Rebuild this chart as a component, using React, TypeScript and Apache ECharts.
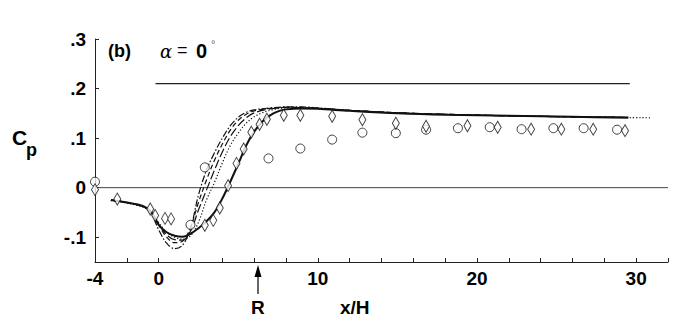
import React, { useEffect, useRef } from "react";
import * as echarts from "echarts";

const xTickLabels = [-4, 0, 10, 20, 30];
const yTickLabels = [-0.1, 0, 0.1, 0.2, 0.3];

const solidCurve = [[-3,-0.025],[-2,-0.03],[-1,-0.037],[-0.5,-0.048],[0,-0.075],[0.5,-0.09],[1,-0.097],[1.5,-0.099],[2,-0.093],[2.5,-0.082],[3,-0.068],[3.5,-0.05],[4,-0.022],[4.5,0.012],[5,0.048],[5.5,0.085],[6,0.113],[6.5,0.133],[7,0.146],[7.5,0.154],[8,0.158],[9,0.16],[10,0.159],[12,0.155],[15,0.15],[18,0.147],[22,0.145],[26,0.143],[29.5,0.141]];
const dottedCurve = [[-3,-0.026],[-2,-0.031],[-1,-0.039],[-0.5,-0.048],[0,-0.07],[0.5,-0.09],[1,-0.1],[1.5,-0.104],[2,-0.097],[2.5,-0.07],[3,-0.025],[3.5,0.01],[4,0.05],[4.5,0.085],[5,0.11],[5.5,0.13],[6,0.143],[6.5,0.151],[7,0.156],[8,0.161],[10,0.16],[12,0.156],[15,0.151],[18,0.148],[22,0.145],[26,0.143],[30.9,0.141]];
const dashedCurve = [[-3,-0.025],[-2,-0.03],[-1,-0.038],[-0.5,-0.048],[0,-0.075],[0.5,-0.1],[1,-0.111],[1.5,-0.108],[2,-0.08],[2.5,-0.03],[3,0.015],[3.5,0.055],[4,0.088],[4.5,0.116],[5,0.136],[5.5,0.148],[6,0.155],[7,0.16],[8,0.162],[10,0.16],[12,0.156],[15,0.151],[18,0.148],[22,0.145],[26,0.143],[29.5,0.142]];
const longDashCurve = [[-3,-0.025],[-2,-0.03],[-1,-0.038],[-0.5,-0.048],[0,-0.073],[0.5,-0.095],[1,-0.105],[1.5,-0.106],[2,-0.088],[2.5,-0.045],[3,-0.005],[3.5,0.035],[4,0.072],[4.5,0.103],[5,0.125],[5.5,0.141],[6,0.151],[7,0.159],[8,0.162],[10,0.16],[12,0.156],[15,0.151],[18,0.148],[22,0.145],[26,0.143],[29.5,0.142]];
const dashDotCurve = [[-3,-0.025],[-2,-0.03],[-1,-0.038],[-0.5,-0.05],[0,-0.085],[0.5,-0.112],[1,-0.123],[1.5,-0.116],[2,-0.082],[2.5,-0.015],[3,0.035],[3.5,0.07],[4,0.1],[4.5,0.125],[5,0.142],[5.5,0.152],[6,0.157],[7,0.161],[8,0.163],[9,0.163],[10,0.161],[12,0.156],[15,0.151],[18,0.148],[22,0.145],[26,0.143],[29.5,0.142]];

const circles = [[-4,0.012],[2.0,-0.075],[2.9,0.041],[6.9,0.059],[8.9,0.079],[10.9,0.097],[12.8,0.111],[14.9,0.11],[16.8,0.117],[18.8,0.12],[20.8,0.122],[22.8,0.118],[24.8,0.12],[26.7,0.12],[28.8,0.117]];
const diamonds = [[-4,-0.004],[-2.6,-0.023],[-0.53,-0.043],[-0.22,-0.056],[0.4,-0.062],[0.78,-0.063],[2.9,-0.076],[3.43,-0.066],[3.84,-0.041],[4.36,0.004],[4.89,0.049],[5.34,0.078],[5.82,0.112],[6.34,0.128],[6.8,0.138],[7.86,0.146],[8.9,0.146],[10.9,0.144],[12.8,0.137],[14.9,0.13],[16.8,0.124],[19.4,0.125],[21.3,0.122],[23.4,0.118],[25.3,0.118],[27.3,0.118],[29.3,0.115]];

const zeroLine = [[-4, 0], [32, 0]];
const freeStreamLine = [[-0.2, 0.21], [29.6, 0.21]];

const FONT = "'Liberation Sans', Arial, sans-serif";

export default function App() {
  const ref = useRef<HTMLDivElement>(null);
  useEffect(() => {
    if (!ref.current) return;
    const chart = echarts.init(ref.current, null, { renderer: "svg" });
    const lineSeries = (data: number[][], type: any, width: number, color = "#111") => ({
      type: "line",
      data,
      showSymbol: false,
      smooth: 0.35,
      lineStyle: { color, width, type },
      z: 2,
      silent: true,
    });
    const txt = (text: string, left: number, top: number, size: number, extra: any = {}) => ({
      type: "text",
      left,
      top,
      style: { text, fontSize: size, fontWeight: "bold", fontFamily: FONT, fill: "#000", ...extra },
    });
    chart.setOption({
      animation: false,
      backgroundColor: "#fff",
      grid: { left: 95, right: 12, top: 39, bottom: 62 },
      xAxis: {
        type: "value",
        min: -4,
        max: 32,
        interval: 2,
        splitLine: { show: false },
        axisLine: { onZero: false, lineStyle: { color: "#222", width: 1 } },
        axisTick: { inside: true, length: 4, lineStyle: { color: "#222" } },
        axisLabel: {
          customValues: xTickLabels,
          color: "#000",
          fontFamily: FONT,
          fontWeight: "bold",
          fontSize: 19,
          margin: 7,
        },
      },
      yAxis: {
        type: "value",
        min: -0.15,
        max: 0.3,
        splitLine: { show: false },
        axisLine: { onZero: false, lineStyle: { color: "#222", width: 1 } },
        axisTick: { inside: true, length: 4, customValues: yTickLabels, lineStyle: { color: "#222" } },
        axisLabel: {
          customValues: yTickLabels,
          color: "#000",
          fontFamily: FONT,
          fontWeight: "bold",
          fontSize: 19,
          margin: 9,
          formatter: (v: number) =>
            Math.abs(v) < 1e-9 ? "0" : (v < 0 ? "-" : "") + Math.abs(v).toFixed(1).replace(/^0/, ""),
        },
      },
      series: [
        { type: "line", data: zeroLine, showSymbol: false, lineStyle: { color: "#444", width: 1 }, z: 1, silent: true },
        { type: "line", data: freeStreamLine, showSymbol: false, lineStyle: { color: "#222", width: 1.3 }, z: 1, silent: true },
        lineSeries(dashDotCurve, [7, 2, 1.5, 2], 1.2),
        lineSeries(dashedCurve, [5, 3], 1.2),
        lineSeries(longDashCurve, [9, 3], 1.2),
        lineSeries(dottedCurve, [1.2, 2], 1.2),
        lineSeries(solidCurve, "solid", 2),
        {
          type: "scatter",
          data: circles,
          symbol: "circle",
          symbolSize: 9,
          itemStyle: { color: "#fff", borderColor: "#111", borderWidth: 1 },
          z: 3,
        },
        {
          type: "scatter",
          data: diamonds,
          symbol: "diamond",
          symbolSize: [7, 12],
          itemStyle: { color: "#fff", borderColor: "#111", borderWidth: 1 },
          z: 4,
        },
      ],
      graphic: [
        txt("(b)", 108, 42, 18),
        txt("α", 160, 42, 18, { fontStyle: "italic", fontWeight: "normal", fontFamily: "'DejaVu Serif', serif" }),
        txt("=", 177, 41, 18, { fontWeight: "normal" }),
        txt("0", 196, 41, 20),
        txt("°", 211, 38, 11, { fontWeight: "normal", fill: "#666" }),
        txt("C", 12, 127, 21),
        txt("p", 26, 141, 18),
        { type: "line", shape: { x1: 258, y1: 274, x2: 258, y2: 294 }, style: { stroke: "#000", lineWidth: 1.2 } },
        { type: "polygon", shape: { points: [[258, 265], [254.5, 277], [261.5, 277]] }, style: { fill: "#000" } },
        txt("R", 251, 298, 19),
        txt("x/H", 340, 298, 19),
      ],
    });
    return () => chart.dispose();
  }, []);
  return <div ref={ref} style={{ width: 680, height: 324, position: "absolute", left: 0, top: 0 }} />;
}
